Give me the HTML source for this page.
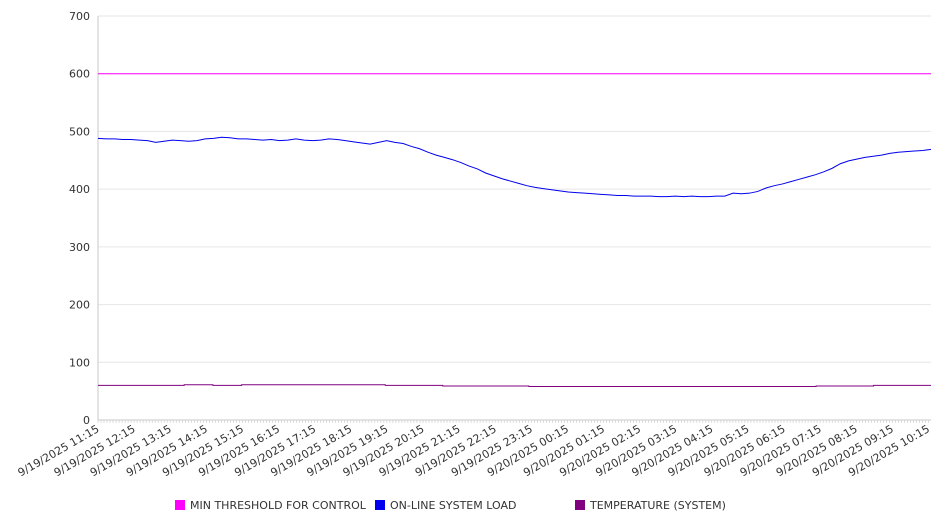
<!DOCTYPE html>
<html><head><meta charset="utf-8"><style>
html,body{margin:0;padding:0;background:#fff;}
svg{display:block;font-family:"DejaVu Sans","Liberation Sans",sans-serif;}
</style></head><body>
<svg id="chart" width="946" height="526" viewBox="0 0 946 526" xmlns="http://www.w3.org/2000/svg">
<g id="grid"></g>
<g id="yaxis"></g>
<g id="xaxis"></g>
<g id="series"></g>
<g id="legend"></g>
</svg>
<script>
const yTicks = [0,100,200,300,400,500,600,700];
const xLabels = ["9/19/2025 11:15","9/19/2025 12:15","9/19/2025 13:15","9/19/2025 14:15","9/19/2025 15:15","9/19/2025 16:15","9/19/2025 17:15","9/19/2025 18:15","9/19/2025 19:15","9/19/2025 20:15","9/19/2025 21:15","9/19/2025 22:15","9/19/2025 23:15","9/20/2025 00:15","9/20/2025 01:15","9/20/2025 02:15","9/20/2025 03:15","9/20/2025 04:15","9/20/2025 05:15","9/20/2025 06:15","9/20/2025 07:15","9/20/2025 08:15","9/20/2025 09:15","9/20/2025 10:15"];
const thresholdValues = [600,600];
const loadValues = [488,487,487,486,486,485,484,481,483,485,484,483,484,487,488,490,489,487,487,486,485,486,484,485,487,485,484,485,487,486,484,482,480,478,481,484,481,479,474,470,464,459,455,451,446,440,435,428,423,418,414,410,406,403,401,399,397,395,394,393,392,391,390,389,389,388,388,388,387,387,388,387,388,387,387,388,388,393,392,393,396,402,406,409,413,417,421,425,430,436,444,449,452,455,457,459,462,464,465,466,467,469];
const tempValues = [60,60,60,61,60,61,61,61,61,61,60,60,59,59,59,58,58,58,58,58,58,58,58,58,58,59,59,60,60];
const legendNames = ["MIN THRESHOLD FOR CONTROL","ON-LINE SYSTEM LOAD","TEMPERATURE (SYSTEM)"];
const legendColors = ["#ff00ff","#0000ee","#800080"];

const NS="http://www.w3.org/2000/svg";
const X0=98,X1=931,Y0=420,Y1=16,YMAX=700;
const HOURS=23.07;
function yS(v){return Y0-(v/YMAX)*(Y0-Y1);}
function xFrac(f){return X0+f*(X1-X0);}
function xHour(h){return X0+h/HOURS*(X1-X0);}
function mk(tag,attrs,parent){const e=document.createElementNS(NS,tag);for(const k in attrs)e.setAttribute(k,attrs[k]);parent.appendChild(e);return e;}
const grid=document.getElementById('grid'),yax=document.getElementById('yaxis'),xax=document.getElementById('xaxis'),ser=document.getElementById('series'),leg=document.getElementById('legend');

yTicks.forEach(t=>{
  if(t>0){const g=mk('line',{x1:X0,x2:X1,y1:yS(t),y2:yS(t),stroke:'#e6e6e6','stroke-width':1},grid);
  
  }
  const l=mk('text',{x:90,y:yS(t)+4,'text-anchor':'end','font-size':11,fill:'#333'},yax);
  l.textContent=t;
  
  
});
const ya=mk('line',{x1:X0,x2:X0,y1:Y1,y2:Y0,stroke:'#c8c8c8'},yax);


const xa=mk('line',{x1:X0,x2:X1,y1:Y0,y2:Y0,stroke:'#c8c8c8'},xax);


let tp='';
for(let m=0;m<=HOURS*12;m++){const x=xHour(m/12).toFixed(1);tp+=`M${x} ${Y0}V${Y0+3}`;}
const tk=mk('path',{d:tp,stroke:'#c8c8c8','stroke-width':0.6,fill:'none'},xax);


xLabels.forEach((s,i)=>{
  const x=xHour(i)+2,y=431;
  const t=mk('text',{x:x,y:y,'text-anchor':'end','font-size':11,fill:'#333',transform:`rotate(-30 ${x} ${y})`},xax);
  t.textContent=s;
  
  
});
function line(vals,color,name){
  const n=vals.length;
  const d=vals.map((v,i)=>(i?'L':'M')+xFrac(i/(n-1)).toFixed(2)+' '+yS(v).toFixed(2)).join('');
  const p=mk('path',{d:d,fill:'none',stroke:color,'stroke-width':1},ser);
  
  
}
line(thresholdValues,legendColors[0],'threshold-line');
line(loadValues,legendColors[1],'load-line');
function stepLine(vals,color,name){
  const n=vals.length;let d='';
  vals.forEach((v,i)=>{const xa=xFrac(i/n),xb=xFrac((i+1)/n),y=yS(v).toFixed(2);d+=(i?'L':'M')+xa.toFixed(2)+' '+y+'L'+xb.toFixed(2)+' '+y;});
  const p=mk('path',{d:d,fill:'none',stroke:color,'stroke-width':1},ser);
  
  
}
stepLine(tempValues,legendColors[2],'temperature-line');
const lx=[175,375,575];
legendNames.forEach((s,i)=>{
  const g=mk('g',{},leg);
  
  
  mk('rect',{x:lx[i],y:500,width:10,height:10,fill:legendColors[i]},g);
  const t=mk('text',{x:lx[i]+15,y:509,'font-size':11,fill:'#333'},g);
  t.textContent=s;
});
</script>
</body></html>
